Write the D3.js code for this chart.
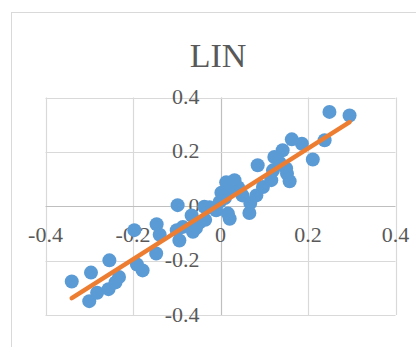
<!DOCTYPE html>
<html><head><meta charset="utf-8">
<script src="https://cdn.jsdelivr.net/npm/d3@7"></script>
<style>body{margin:0;background:#fff}svg{display:block}</style>
</head><body>
<script>
const title = "LIN";
const xTicks = [-0.4, -0.2, 0, 0.2, 0.4];
const yTicks = [-0.4, -0.2, 0, 0.2, 0.4];
const tickLabels = ["-0.4", "-0.2", "0", "0.2", "0.4"];
const xValues = [-0.340,-0.296,-0.300,-0.282,-0.254,-0.256,-0.232,-0.240,-0.197,-0.191,-0.178,-0.146,-0.139,-0.147,-0.098,-0.100,-0.094,-0.063,-0.048,-0.066,-0.086,-0.056,-0.035,-0.037,-0.025,-0.010,-0.002,0.002,0.010,0.013,0.032,0.040,0.020,0.017,0.021,0.050,0.066,0.068,0.082,0.097,0.085,0.116,0.120,0.123,0.142,0.135,0.150,0.158,0.152,0.163,0.186,0.211,0.238,0.249,0.295];
const yValues = [-0.277,-0.244,-0.349,-0.318,-0.199,-0.305,-0.260,-0.280,-0.088,-0.214,-0.236,-0.066,-0.105,-0.174,0.004,-0.088,-0.126,-0.094,-0.060,-0.034,-0.076,-0.080,-0.050,-0.002,-0.004,-0.015,0.016,0.050,0.030,0.088,0.096,0.070,0.060,-0.027,-0.046,0.040,-0.025,0.012,0.040,0.071,0.151,0.096,0.132,0.181,0.206,0.160,0.139,0.092,0.120,0.246,0.230,0.172,0.243,0.347,0.334];

const W = 416, H = 347;
const svg = d3.select("body").append("svg").attr("width", W).attr("height", H);
const font = "'Liberation Serif','Times New Roman',serif";
const textColor = "#595959";

svg.append("rect").attr("x", 11.5).attr("y", 12.5).attr("width", 500).attr("height", 500)
  .attr("fill", "#fff").attr("stroke", "#d9d9d9").attr("stroke-width", 1);

const x = d3.scaleLinear().domain([-0.4, 0.4]).range([45.5, 395.5]);
const y = d3.scaleLinear().domain([-0.4, 0.4]).range([315, 97.5]);

svg.append("text").attr("x", 218).attr("y", 67).attr("text-anchor", "middle")
  .attr("font-family", font).attr("font-size", 34).attr("fill", textColor).text(title);

const g = svg.append("g");
// gridlines
g.selectAll("line.v").data(xTicks).join("line")
  .attr("x1", d => Math.round(x(d)) + 0.5).attr("x2", d => Math.round(x(d)) + 0.5)
  .attr("y1", y(0.4)).attr("y2", y(-0.4))
  .attr("stroke", d => d === 0 ? "#bfbfbf" : "#d9d9d9").attr("stroke-width", 1.2);
g.selectAll("line.h").data(yTicks).join("line")
  .attr("y1", d => Math.round(y(d)) + 0.5).attr("y2", d => Math.round(y(d)) + 0.5)
  .attr("x1", x(-0.4)).attr("x2", x(0.4))
  .attr("stroke", d => d === 0 ? "#bfbfbf" : "#d9d9d9").attr("stroke-width", 1.2);

// y tick labels
g.selectAll("text.yl").data(yTicks).join("text")
  .attr("x", x(0) - 21).attr("y", d => y(d) + 6.5).attr("text-anchor", "end")
  .attr("font-family", font).attr("font-size", 22).attr("fill", textColor)
  .text((d, i) => tickLabels[i]);
// x tick labels
g.selectAll("text.xl").data(xTicks).join("text")
  .attr("x", d => x(d)).attr("y", y(0) + 36).attr("text-anchor", "middle")
  .attr("font-family", font).attr("font-size", 22).attr("fill", textColor)
  .text((d, i) => tickLabels[i]);

const pts = xValues.map((v, i) => [v, yValues[i]]);
g.selectAll("circle").data(pts).join("circle")
  .attr("cx", d => x(d[0])).attr("cy", d => y(d[1])).attr("r", 7)
  .attr("fill", "#5B9BD5");

// linear trendline (least squares)
const n = pts.length;
const mx = d3.mean(xValues), my = d3.mean(yValues);
let sxy = 0, sxx = 0;
pts.forEach(([a, b]) => { sxy += (a - mx) * (b - my); sxx += (a - mx) ** 2; });
const slope = sxy / sxx, icpt = my - slope * mx;
const [x0, x1] = d3.extent(xValues);
g.append("line")
  .attr("x1", x(x0)).attr("y1", y(slope * x0 + icpt))
  .attr("x2", x(x1)).attr("y2", y(slope * x1 + icpt))
  .attr("stroke", "#ED7D31").attr("stroke-width", 4.5).attr("stroke-linecap", "round");
</script>
</body></html>
